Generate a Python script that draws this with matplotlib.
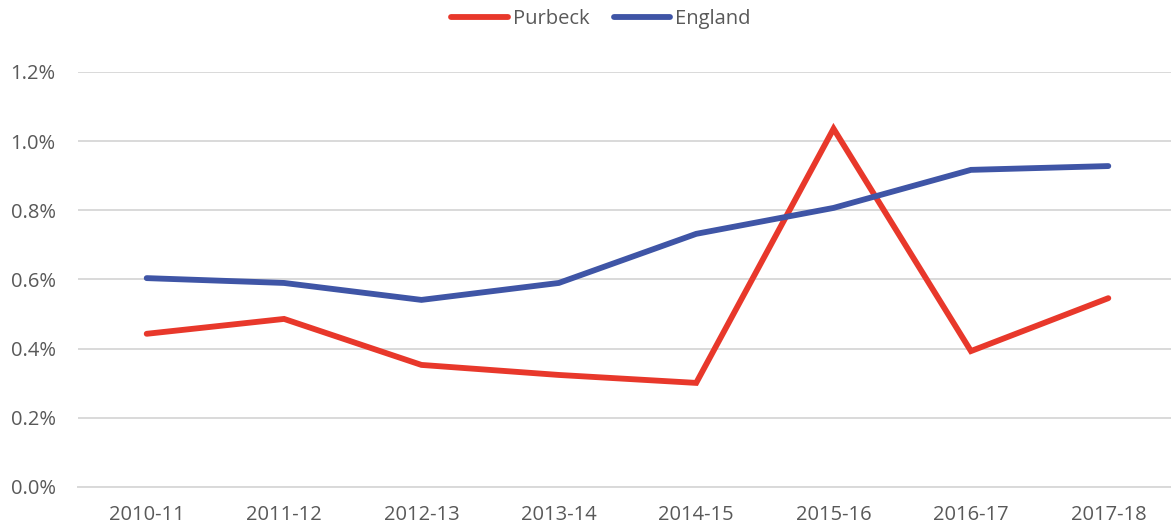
import matplotlib
matplotlib.use("Agg")
import matplotlib.pyplot as plt
from matplotlib.ticker import FuncFormatter, MultipleLocator

categories = ["2010-11", "2011-12", "2012-13", "2013-14", "2014-15", "2015-16", "2016-17", "2017-18"]
purbeck = [0.443, 0.486, 0.353, 0.324, 0.301, 1.036, 0.393, 0.546]
england = [0.604, 0.590, 0.541, 0.590, 0.732, 0.807, 0.917, 0.928]

plt.rcParams['font.family'] = ['Open Sans', 'DejaVu Sans']
text_color = "#595959"

W, H = 1171, 532
fig = plt.figure(figsize=(W/100, H/100), dpi=100)
left, right = 78, 1177
ax = fig.add_axes([left/W, 1-487/H, (right-left)/W, (487-72)/H])

x = list(range(len(categories)))
ax.plot(x, purbeck, color="#E8382B", lw=4.2, label="Purbeck", solid_capstyle="round", solid_joinstyle="miter", zorder=3)
ax.plot(x, england, color="#3F55A6", lw=4.2, label="England", solid_capstyle="round", solid_joinstyle="miter", zorder=3)

ax.set_xlim(-0.5, len(categories) - 0.5)
ax.set_ylim(0, 1.2)
ax.yaxis.set_major_locator(MultipleLocator(0.2))
ax.yaxis.set_major_formatter(FuncFormatter(lambda v, p: f"{v:.1f}%"))
ax.set_xticks(x)
ax.set_xticklabels(categories)
ax.grid(axis="y", color="#D9D9D9", lw=1.4)
ax.set_axisbelow(True)
for s in ["top", "right", "left"]:
    ax.spines[s].set_visible(False)
ax.spines["bottom"].set_color("#D9D9D9")
ax.spines["bottom"].set_linewidth(1.4)
ax.tick_params(axis="both", length=0, labelsize=14.5, colors=text_color)
ax.tick_params(axis="y", pad=16)
ax.tick_params(axis="x", pad=13)

leg = fig.legend(handles=ax.get_lines(), loc="center", bbox_to_anchor=(601/W, 1-19/H), ncol=2, frameon=False,
                 fontsize=14.5, handlelength=2.8, columnspacing=1.2, handletextpad=0.25)
for t in leg.get_texts():
    t.set_color(text_color)

fig.savefig("out.png", dpi=100)
